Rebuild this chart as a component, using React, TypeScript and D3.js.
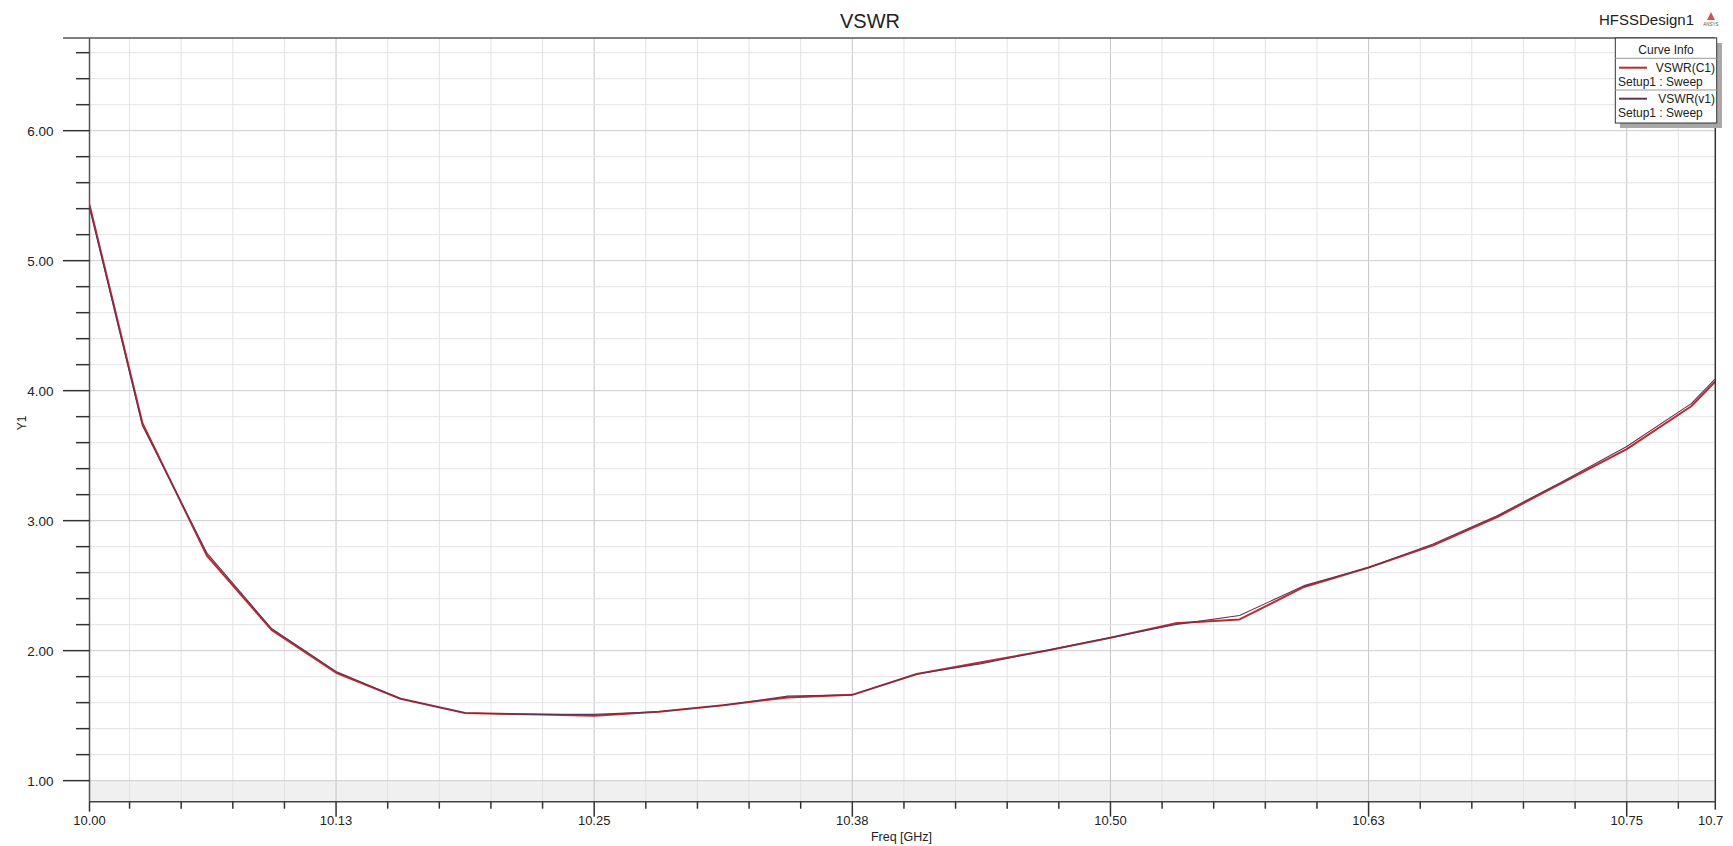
import * as d3 from 'd3';

// Sweep points (GHz) and VSWR values
const FREQ = [10.0056, 10.03125, 10.0625, 10.09375, 10.125, 10.15625, 10.1875, 10.21875, 10.25,
  10.28125, 10.3125, 10.34375, 10.375, 10.40625, 10.4375, 10.46875, 10.5, 10.53125, 10.5625,
  10.59375, 10.625, 10.65625, 10.6875, 10.71875, 10.75, 10.78125, 10.7929];
const VSWR_C1 = [5.43, 3.75, 2.73, 2.16, 1.83, 1.63, 1.52, 1.51, 1.50, 1.53, 1.58, 1.64, 1.66,
  1.82, 1.91, 2.00, 2.10, 2.21, 2.24, 2.49, 2.64, 2.81, 3.03, 3.29, 3.55, 3.88, 4.07];
const VSWR_V1 = [5.41, 3.73, 2.75, 2.17, 1.84, 1.63, 1.52, 1.51, 1.51, 1.53, 1.58, 1.65, 1.66,
  1.82, 1.90, 2.00, 2.10, 2.20, 2.27, 2.50, 2.64, 2.82, 3.04, 3.30, 3.57, 3.90, 4.09];

const X_MAJOR = [10.125, 10.25, 10.375, 10.5, 10.625, 10.75];
const X_LABELS = ['10.13', '10.25', '10.38', '10.50', '10.63', '10.75'];
const Y_MAJOR = [1, 2, 3, 4, 5, 6];
const Y_LABELS = ['1.00', '2.00', '3.00', '4.00', '5.00', '6.00'];

const SERIES = [
  { name: 'VSWR(C1)', values: VSWR_C1, color: '#c0282d', width: 2 },
  { name: 'VSWR(v1)', values: VSWR_V1, color: '#5e3556', width: 1.1 },
];

const FONT = '"Liberation Sans", Arial, sans-serif';

export default function App() {
  const W = 1733, H = 846;
  const left = 89.5, right = 1715.3, top = 38, bottom = 801.7;

  const x = d3.scaleLinear().domain([10.0056, 10.7929]).range([left, right]);
  const y = d3.scaleLinear().domain([0.838, 6.713]).range([bottom, top]);

  const xMinor = d3.range(10.025, 10.79, 0.025).map(v => +v.toFixed(3));
  const yMinor = d3.range(1.0, 6.7, 0.2).map(v => +v.toFixed(2));

  const line = (vals: number[]) =>
    d3.line<number>().x((_, i) => x(FREQ[i])).y(d => y(d))(vals) || '';

  const isMajorX = (v: number) => X_MAJOR.some(m => Math.abs(m - v) < 1e-6);
  const isMajorY = (v: number) => Math.abs(v - Math.round(v)) < 1e-6;

  return (
    <svg width={W} height={H} style={{ position: 'fixed', left: 0, top: 0, background: '#fff' }}
      fontFamily={FONT}>
      <rect width={W} height={H} fill="#fff" />

      {/* shaded band under 1.00 */}
      <rect x={left} y={y(1)} width={right - left} height={bottom - y(1)} fill="#f0f0f0" />

      {/* grid */}
      {xMinor.map(v => (
        <line key={'gx' + v} x1={x(v)} x2={x(v)} y1={top} y2={bottom}
          stroke={isMajorX(v) ? '#c6c6c6' : '#e2e2e2'} strokeWidth={1} />
      ))}
      {yMinor.map(v => (
        <line key={'gy' + v} x1={left} x2={right} y1={y(v)} y2={y(v)}
          stroke={isMajorY(v) ? '#cdcdcd' : '#e4e4e4'} strokeWidth={1} />
      ))}

      {/* curves */}
      <g clipPath="url(#plotclip)">
        {SERIES.map(s => (
          <path key={s.name} d={line(s.values)} fill="none" stroke={s.color}
            strokeWidth={s.width} strokeLinejoin="round" />
        ))}
      </g>
      <defs>
        <clipPath id="plotclip">
          <rect x={left} y={top} width={right - left} height={bottom - top} />
        </clipPath>
      </defs>

      {/* frame */}
      <line x1={63} x2={right} y1={top} y2={top} stroke="#555" strokeWidth={1.5} />
      <line x1={left} x2={left} y1={top} y2={bottom} stroke="#555" strokeWidth={1.5} />
      <line x1={right} x2={right} y1={top} y2={bottom} stroke="#333" strokeWidth={1.5} />
      <line x1={left} x2={right} y1={bottom} y2={bottom} stroke="#444" strokeWidth={1.5} />

      {/* y ticks */}
      {yMinor.map(v => (
        <line key={'ty' + v} x1={isMajorY(v) ? 63 : 76} x2={left} y1={y(v)} y2={y(v)}
          stroke="#333" strokeWidth={1.5} />
      ))}
      {Y_MAJOR.map((v, i) => (
        <text key={'ly' + v} x={53.5} y={y(v) + 4.9} textAnchor="end" fontSize={13.5} fill="#222">
          {Y_LABELS[i]}
        </text>
      ))}

      {/* x ticks */}
      {xMinor.map(v => (
        <line key={'tx' + v} x1={x(v)} x2={x(v)} y1={bottom} y2={bottom + (isMajorX(v) ? 15 : 7)}
          stroke="#333" strokeWidth={1.5} />
      ))}
      <line x1={left} x2={left} y1={bottom} y2={bottom + 10} stroke="#333" strokeWidth={1.5} />
      <line x1={right} x2={right} y1={bottom} y2={bottom + 8} stroke="#333" strokeWidth={1.5} />
      {X_MAJOR.map((v, i) => (
        <text key={'lx' + v} x={x(v)} y={825} textAnchor="middle" fontSize={13} fill="#222">
          {X_LABELS[i]}
        </text>
      ))}
      <text x={left} y={825} textAnchor="middle" fontSize={13} fill="#222">10.00</text>
      <text x={1698} y={825} textAnchor="start" fontSize={13} fill="#222">10.7</text>

      {/* axis titles */}
      <text x={901.5} y={841} textAnchor="middle" fontSize={12.5} fill="#222">Freq [GHz]</text>
      <text transform="translate(26,423) rotate(-90)" textAnchor="middle" fontSize={12} fill="#222">Y1</text>
      <text x={870} y={28} textAnchor="middle" fontSize={20} fill="#222">VSWR</text>
      <text x={1599} y={25} fontSize={15} fill="#222">HFSSDesign1</text>

      {/* small logo */}
      <path d="M1711,12 L1715,20 L1707,20 Z" fill="#c0282d" opacity={0.8} />
      <text x={1711} y={26} textAnchor="middle" fontSize={4.5} fill="#555">ANSYS</text>

      {/* legend */}
      <rect x={1620} y={43} width={102} height={85} fill="#a8a8a8" />
      <rect x={1615.3} y={38} width={101.4} height={85} fill="#fff" stroke="#333" strokeWidth={1} />
      <line x1={1615.3} x2={1716.7} y1={58.3} y2={58.3} stroke="#999" />
      <line x1={1615.3} x2={1716.7} y1={90} y2={90} stroke="#999" />
      <text x={1666} y={54} textAnchor="middle" fontSize={12} fill="#222">Curve Info</text>
      {SERIES.map((s, i) => {
        const oy = i * 31;
        return (
          <g key={'lg' + s.name}>
            <line x1={1619} x2={1647} y1={67.7 + oy} y2={67.7 + oy} stroke={s.color} strokeWidth={2} />
            <text x={1715} y={72 + oy} textAnchor="end" fontSize={12} fill="#222">{s.name}</text>
            <text x={1618} y={86 + oy} fontSize={12} fill="#222">Setup1 : Sweep</text>
          </g>
        );
      })}
    </svg>
  );
}
